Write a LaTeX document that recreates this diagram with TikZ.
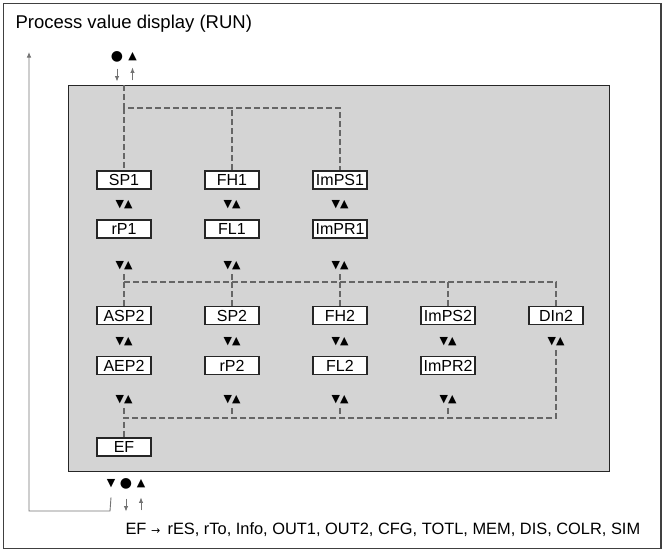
\documentclass[tikz,border=0pt]{standalone}
\usepackage{fontspec}
\setmainfont{Liberation Sans}
\newfontfamily\symfont{DejaVu Sans}
\usetikzlibrary{positioning,arrows.meta}

\tikzset{
  menu/.style={draw=black!85,line width=1.8pt,fill=white,minimum width=54pt,
    minimum height=18pt,inner sep=0pt,font=\fontsize{16}{16}\selectfont},
  keys/.style={inner sep=0pt,font=\symfont\fontsize{11}{11}\selectfont},
  dot/.style={inner sep=0pt,font=\symfont\fontsize{14}{14}\selectfont},
  dashlink/.style={draw=black!60,line width=1.1pt,dash pattern=on 6pt off 3pt},
  thinarrow/.style={draw=black!55,line width=0.9pt,-{Latex[length=5.5pt,width=4.5pt]}}
}

\begin{document}
\begin{tikzpicture}[x=1pt,y=-1pt,>=latex]
  \useasboundingbox (0,0) rectangle (664,550);
  % frame and grey panel
  \draw[black!75,line width=1.2pt] (3.5,3.5) rectangle (661,548.5);
  \draw[black!85,fill=black!17,line width=0.9pt] (68,85) rectangle (609,471);
  \node[anchor=base west,font=\fontsize{18.5}{18.5}\selectfont] (title) at (12,28)
    {Process value display (RUN)};

  % menu entries
  \foreach \name/\txt/\x/\y in {sp1/SP1/124/180, fh1/FH1/232/180, imps1/ImPS1/340/180,
      rp1/rP1/124/229, fl1/FL1/232/229, impr1/ImPR1/340/229,
      asp2/ASP2/124/315.5, sp2/SP2/232/315.5, fh2/FH2/340/315.5, imps2/ImPS2/448/315.5,
      din2/DIn2/556/315.5,
      aep2/AEP2/124/365.5, rp2/rP2/232/365.5, fl2/FL2/340/365.5, impr2/ImPR2/448/365.5,
      ef/EF/124/447}
    \node[menu] (\name) at (\x,\y) {\txt};

  % up/down keys
  \foreach \i/\x in {1/124,2/232,3/340} {
    \node[keys] (ka\i) at (\x,205) {▼▲};
    \node[keys] (kb\i) at (\x,266) {▼▲};
  }
  \foreach \i/\x in {1/124,2/232,3/340,4/448,5/556}
    \node[keys] (kc\i) at (\x,341.5) {▼▲};
  \foreach \i/\x in {1/124,2/232,3/340,4/448}
    \node[keys] (kd\i) at (\x,399.5) {▼▲};

  % dashed branches
  \coordinate (entry) at (124,85);
  \coordinate (top) at (124,108);
  \coordinate (midL) at (124,282);
  \coordinate (midR) at (556,282);
  \coordinate (lowL) at (124,418);
  \coordinate (lowR) at (556,418);
  \draw[dashlink] (entry) -- (top) -| (imps1.north);
  \draw[dashlink] (top) -- (sp1.north);
  \draw[dashlink] (fh1.north) -- (fh1.north |- top);
  \draw[dashlink] (midL) -- (midR) -- (din2.north);
  \foreach \i in {1,2,3}
    \draw[dashlink] (kb\i.south) ++(0,4) -- (kb\i.south |- midL);
  \foreach \n in {asp2,sp2,fh2,imps2}
    \draw[dashlink] (\n.north |- midL) -- (\n.north);
  \draw[dashlink] (kc5.south) ++(0,4) -- (lowR) -- (lowL) -- (ef.north);
  \foreach \i in {1,2,3,4}
    \draw[dashlink] (kd\i.south) ++(0,4) -- (kd\i.south |- lowL);

  % keys at the top and bottom
  \node[dot] (set1) at (117,57) {●};
  \node[keys] (up1) at (132.5,57) {▲};
  \node[keys] (dn2) at (111,484) {▼};
  \node[dot] (set2) at (126,484) {●};
  \node[keys] (up2) at (141,484) {▲};
  \draw[thinarrow] (set1.south) ++(0,6) -- ++(0,13);
  \draw[thinarrow] (up1.south) ++(0,19) -- ++(0,-13);
  \draw[thinarrow] (set2.south) ++(0,9) -- ++(0,13);
  \draw[thinarrow] (up2.south) ++(0,22) -- ++(0,-13);

  % return to the process value display
  \coordinate (back) at (29,52);
  \draw[thinarrow] (dn2.south) ++(0,9) -- (110,511) -- (29,511) -- (back);

  \node[anchor=base west,font=\fontsize{16.4}{16.4}\selectfont] (more) at (122,534)
    {EF {\symfont\fontsize{11}{11}\selectfont →}\, rES, rTo, Info, OUT1, OUT2, CFG, TOTL, MEM, DIS, COLR, SIM};
\end{tikzpicture}
\end{document}
